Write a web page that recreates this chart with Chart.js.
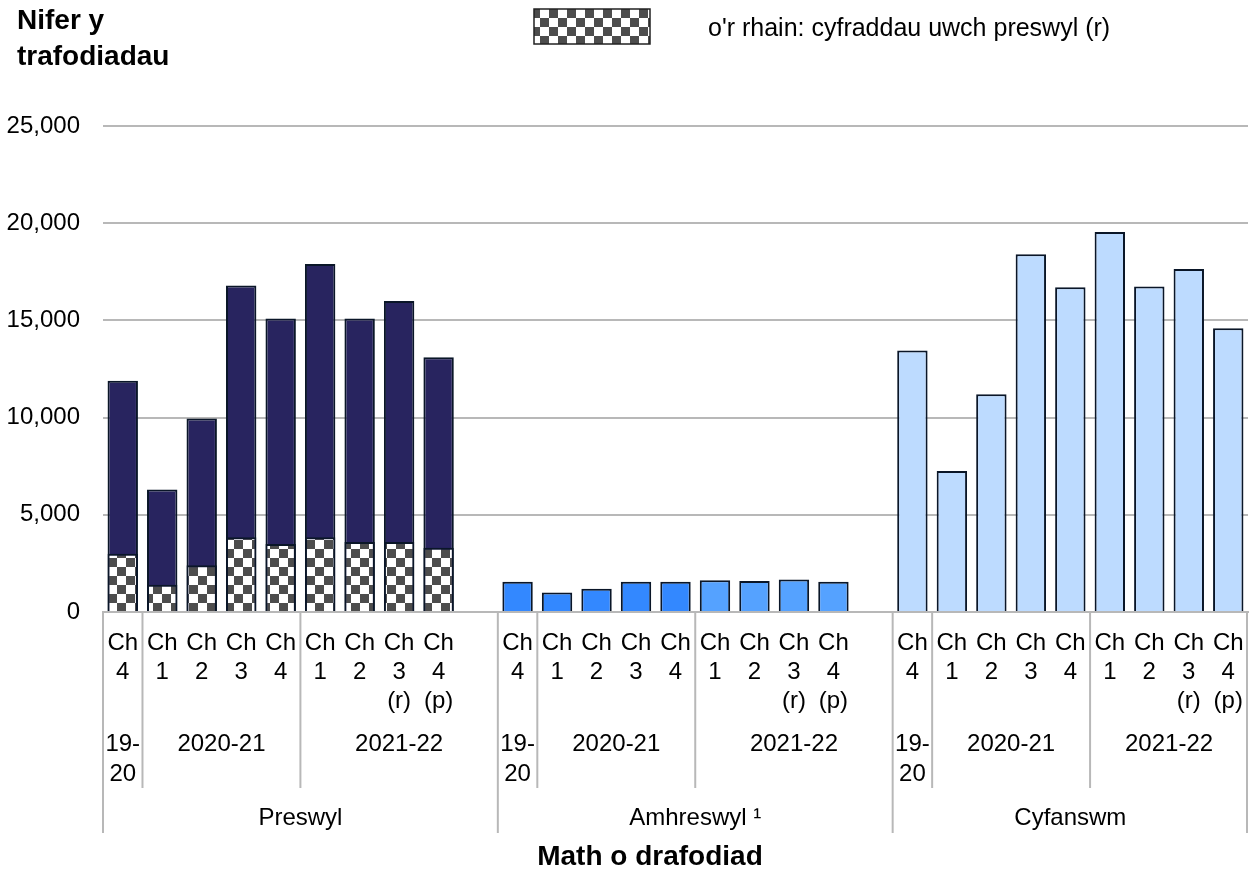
<!DOCTYPE html>
<html><head><meta charset="utf-8">
<script src="https://cdn.jsdelivr.net/npm/chart.js@4.4.1/dist/chart.umd.min.js"></script>
<style>html,body{margin:0;padding:0;background:#fff;}#wrap{width:1252px;height:871px;position:relative;}</style>
</head><body><div id="wrap"><canvas id="c" width="1252" height="871"></canvas></div>
<script>
// ---- data ----
const quarterLabels = [['Ch','4'],['Ch','1'],['Ch','2'],['Ch','3'],['Ch','4'],['Ch','1'],['Ch','2'],['Ch','3','(r)'],['Ch','4','(p)']];
const yearLabels = [['19-','20'],['2020-21'],['2021-22']];
const yearSizes = [1,4,4];
const groupLabels = ['Preswyl','Amhreswyl \u00b9','Cyfanswm'];
const preswylTotal = [11900, 6300, 9950, 16800, 15100, 17900, 15100, 16000, 13100];
const preswylHigherRates = [3000, 1400, 2400, 3850, 3500, 3850, 3600, 3600, 3300];
const amhreswyl = [1550, 1000, 1200, 1550, 1550, 1630, 1600, 1670, 1550];
const cyfanswm = [13450, 7250, 11200, 18400, 16700, 19550, 16750, 17650, 14600];
const legendLabel = "o'r rhain: cyfraddau uwch preswyl (r)";
const yTitle = ['Nifer y','trafodiadau'];
const xTitle = 'Math o drafodiad';
const yTicks = [0,5000,10000,15000,20000,25000];

// ---- styling ----
const FONT = '"Liberation Sans", Arial, sans-serif';
const NAVY = '#28245f';
const EDGE = '#0a1628';
const AMH_COLORS = ['#3388ff','#3388ff','#3388ff','#3388ff','#3388ff','#55a2ff','#55a2ff','#55a2ff','#55a2ff'];
const LIGHT = '#bddbff';
const GRID = '#b8b8b8';

// category slots: 9 bars per group, one empty slot between groups
const labels = [];
groupLabels.forEach((g, gi) => {
  quarterLabels.forEach(q => labels.push(q));
  if (gi < groupLabels.length - 1) labels.push('');
});
const place = (vals, gi) => { const a = new Array(labels.length).fill(null); vals.forEach((v,i)=>{a[gi*10+i]=v;}); return a; };

function makePattern() {
  const c = document.createElement('canvas'); c.width = 18; c.height = 18;
  const g = c.getContext('2d');
  g.fillStyle = '#ffffff'; g.fillRect(0,0,18,18);
  g.fillStyle = '#4d4d4d'; g.fillRect(0,0,9,9); g.fillRect(9,9,9,9);
  return document.getElementById('c').getContext('2d').createPattern(c, 'repeat');
}
const pattern = makePattern();

const amhColorArr = new Array(labels.length).fill(null);
AMH_COLORS.forEach((c,i)=>{amhColorArr[10+i]=c;});

const common = { borderColor: EDGE, borderWidth: 2, grouped: false, barPercentage: 0.77, categoryPercentage: 1 };

const extras = {
  id: 'extras',
  afterDraw(chart) {
    const {ctx, scales:{x}, chartArea:ca} = chart;
    const step = x.getPixelForValue(1) - x.getPixelForValue(0);
    const edge = i => x.getPixelForValue(i) - step/2;
    ctx.save();
    // separators
    ctx.strokeStyle = GRID; ctx.lineWidth = 2;
    const vline = (px, y2) => { ctx.beginPath(); ctx.moveTo(px, ca.bottom); ctx.lineTo(px, y2); ctx.stroke(); };
    groupLabels.forEach((g, gi) => {
      const s = gi*10;
      vline(edge(s), 833);
      vline(edge(s+1), 788);
      vline(edge(s+5), 788);
    });
    vline(Math.min(edge(labels.length), ca.right - 1), 833);
    // quarter labels
    ctx.fillStyle = '#000'; ctx.textAlign = 'center'; ctx.textBaseline = 'middle';
    ctx.font = '24px ' + FONT;
    labels.forEach((lab, i) => {
      if (!lab || !lab.length) return;
      const cx = x.getPixelForValue(i);
      lab.forEach((t, k) => ctx.fillText(t, cx, 643 + k*29));
    });
    // year + group labels
    groupLabels.forEach((g, gi) => {
      const s = gi*10;
      let start = s;
      yearLabels.forEach((yl, yi) => {
        let end = start + yearSizes[yi];
        if (yi === yearLabels.length-1) end = (gi < groupLabels.length-1) ? s+10 : labels.length;
        const cx = (edge(start) + edge(end)) / 2;
        yl.forEach((t,k) => ctx.fillText(t, cx, 744 + k*30));
        start = end;
      });
      const gEnd = (gi < groupLabels.length-1) ? s+10 : labels.length;
      ctx.fillText(g, (edge(s) + edge(gEnd))/2, 818);
    });
    // titles
    ctx.font = 'bold 28px ' + FONT;
    ctx.fillText(xTitle, 650, 857);
    ctx.textAlign = 'left';
    ctx.fillText(yTitle[0], 17, 21);
    ctx.fillText(yTitle[1], 17, 57);
    // legend
    ctx.fillStyle = pattern;
    ctx.fillRect(534, 9, 116, 35);
    ctx.strokeStyle = '#222'; ctx.lineWidth = 1.5;
    ctx.strokeRect(534, 9, 116, 35);
    ctx.fillStyle = '#000'; ctx.font = '25px ' + FONT; ctx.textAlign = 'left';
    ctx.fillText(legendLabel, 708, 29);
    ctx.restore();
  }
};

new Chart(document.getElementById('c'), {
  type: 'bar',
  data: {
    labels,
    datasets: [
      Object.assign({label: legendLabel, data: place(preswylHigherRates, 0), backgroundColor: pattern}, common),
      Object.assign({label: groupLabels[0], data: place(preswylTotal, 0), backgroundColor: NAVY}, common),
      Object.assign({label: groupLabels[1], data: place(amhreswyl, 1), backgroundColor: amhColorArr}, common),
      Object.assign({label: groupLabels[2], data: place(cyfanswm, 2), backgroundColor: LIGHT}, common)
    ]
  },
  options: {
    responsive: false, animation: false,
    layout: { padding: { left: 0, right: 4, top: 126, bottom: 0 } },
    plugins: { legend: { display: false }, tooltip: { enabled: false } },
    scales: {
      x: {
        ticks: { display: false },
        grid: { display: false },
        border: { color: GRID, width: 2 },
        afterFit(s) { s.height = 871 - 612; }
      },
      y: {
        min: 0, max: 25000,
        afterBuildTicks(s) { s.ticks = yTicks.map(v => ({value: v})); },
        ticks: { color: '#000', font: { size: 24, family: FONT }, padding: 23,
                 callback: v => v.toLocaleString('en-GB') },
        grid: { color: GRID, lineWidth: 2, drawTicks: false },
        border: { display: false },
        afterFit(s) { s.width = 103; }
      }
    }
  },
  plugins: [extras]
});
</script></body></html>
